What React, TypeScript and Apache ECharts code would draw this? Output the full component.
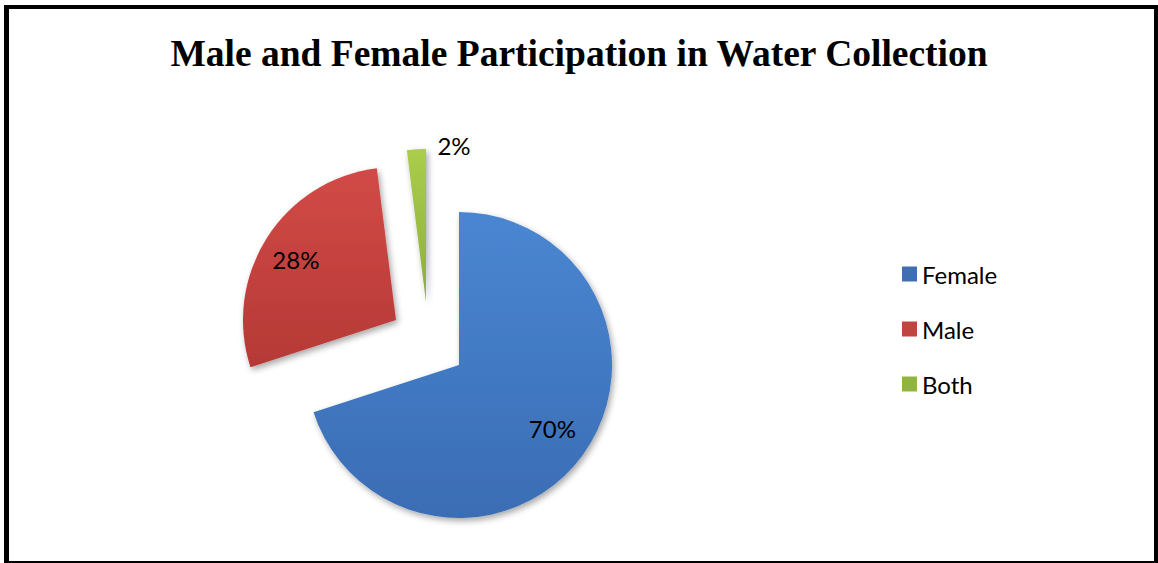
import React, { useEffect, useRef } from "react";
import * as echarts from "echarts";

const titleText = "Male and Female Participation in Water Collection";
const categories = ["Female", "Male", "Both"];
const values = [70, 28, 2];

const sliceFills = [
  ["#4a86d2", "#3a6db4"],
  ["#d24a47", "#b53936"],
  ["#abcd4c", "#8cae3a"],
];
const legendFills = ["#3f6fb0", "#c04541", "#90b43f"];
// per-slice layout (exploded offsets) and label nudges
const sliceCenters = [
  [459, 365],
  [396, 320],
  [426, 302],
];
const labelShift = [
  [29, 17],
  [-33, -18],
  [33, -77],
];

function grad(c: string[]) {
  return new echarts.graphic.LinearGradient(0, 0, 0, 1, [
    { offset: 0, color: c[0] },
    { offset: 1, color: c[1] },
  ]);
}

export default function App() {
  const ref = useRef<HTMLDivElement>(null);
  useEffect(() => {
    if (!ref.current) return;
    const chart = echarts.init(ref.current, undefined, { renderer: "svg" });
    const series = categories.map((_, i) => ({
      type: "pie",
      center: sliceCenters[i],
      radius: [0, 153],
      startAngle: 90,
      clockwise: true,
      silent: true,
      avoidLabelOverlap: false,
      emphasis: { disabled: true },
      label: {
        position: "inside",
        formatter: "{d}%",
        color: "#000",
        fontFamily: "Lato",
        fontSize: 24,
      },
      labelLine: { show: false },
      labelLayout: { dx: labelShift[i][0], dy: labelShift[i][1] },
      data: categories.map((c, j) => ({
        name: c,
        value: values[j],
        itemStyle:
          j === i
            ? {
                color: grad(sliceFills[j]),
                shadowBlur: 6,
                shadowColor: "rgba(0,0,0,0.35)",
                shadowOffsetX: 2,
                shadowOffsetY: 3,
              }
            : { color: "rgba(0,0,0,0)", borderWidth: 0 },
        label: { show: j === i },
      })),
    }));
    chart.setOption({
      animation: false,
      backgroundColor: "#fff",
      title: {
        text: titleText,
        left: "center",
        top: 29,
        textStyle: {
          fontFamily: "Liberation Serif",
          fontWeight: "bold",
          fontSize: 37.5,
          color: "#000",
        },
      },
      legend: {
        orient: "vertical",
        left: 897,
        top: 257,
        icon: "rect",
        itemWidth: 15,
        itemHeight: 15,
        itemGap: 31,
        selectedMode: false,
        textStyle: {
          fontFamily: "Lato",
          fontSize: 24,
          lineHeight: 24,
          color: "#000",
        },
        data: categories.map((c, i) => ({
          name: c,
          itemStyle: { color: legendFills[i] },
        })),
      },
      series,
    });
    return () => chart.dispose();
  }, []);
  return (
    <div style={{ position: "fixed", left: 0, top: 0, width: 1158, height: 563, background: "#fff" }}>
      <div ref={ref} style={{ position: "absolute", left: 0, top: 0, width: 1158, height: 563 }} />
      <div
        style={{
          position: "absolute",
          left: 4,
          top: 5,
          width: 1154,
          height: 558,
          boxSizing: "border-box",
          borderStyle: "solid",
          borderColor: "#000",
          borderWidth: "4px 4px 2px 5px",
          pointerEvents: "none",
        }}
      />
    </div>
  );
}
